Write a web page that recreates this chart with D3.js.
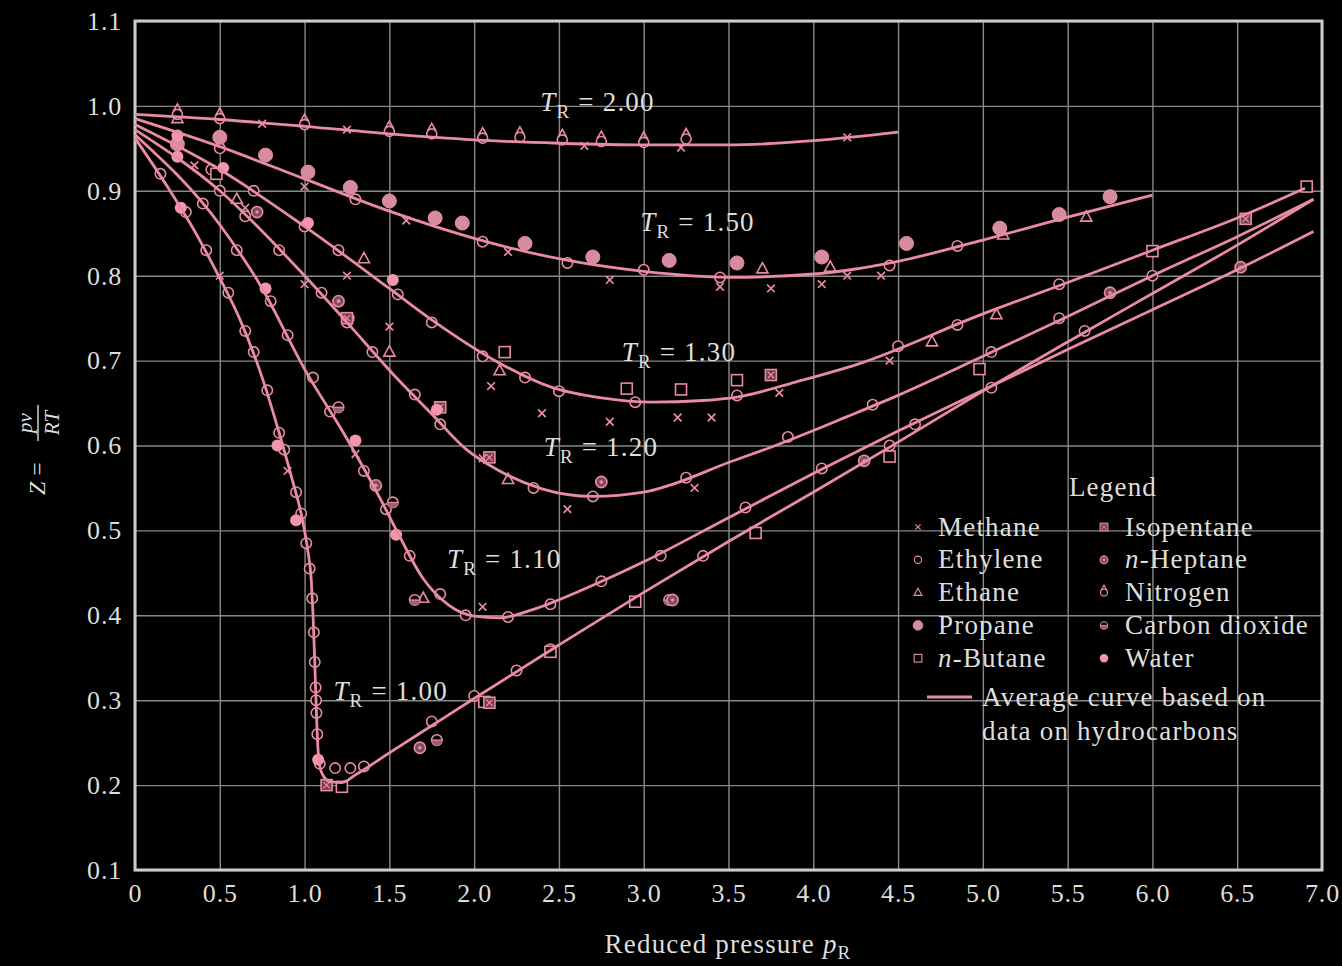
<!DOCTYPE html>
<html>
<head>
<meta charset="utf-8">
<script src="https://cdn.jsdelivr.net/npm/d3@7"></script>
<style>
  html, body { margin: 0; padding: 0; background: #000; }
  svg { display: block; }
  text { font-family: "Liberation Serif", "Times New Roman", serif; fill: #dedede; }
</style>
</head>
<body>
<svg id="chart" width="1342" height="966"></svg>
<script>
// Generalized compressibility chart: Z = pv/RT against reduced pressure p_R

const xTickValues = [0, 0.5, 1.0, 1.5, 2.0, 2.5, 3.0, 3.5, 4.0, 4.5, 5.0, 5.5, 6.0, 6.5, 7.0];
const yTickValues = [0.1, 0.2, 0.3, 0.4, 0.5, 0.6, 0.7, 0.8, 0.9, 1.0, 1.1];

// average curves, [p_R, Z]
const curveTR200 = [[0,0.99],[0.5,0.984],[1.0,0.976],[1.5,0.967],[2.0,0.96],[2.5,0.956],[3.0,0.954],[3.5,0.954],[4.0,0.959],[4.5,0.969]];
const curveTR150 = [[0,0.985],[0.5,0.952],[1.0,0.914],[1.5,0.876],[2.0,0.844],[2.5,0.82],[3.0,0.805],[3.5,0.798],[4.0,0.802],[4.5,0.817],[5.0,0.842],[5.5,0.869],[6.0,0.895]];
const curveTR130 = [[0,0.978],[0.5,0.925],[1.0,0.858],[1.5,0.785],[1.75,0.748],[2.15,0.697],[2.45,0.669],[2.75,0.656],[3.05,0.651],[3.35,0.653],[3.55,0.657],[3.9,0.675],[4.25,0.695],[5.0,0.755],[5.5,0.792],[6.0,0.83],[6.5,0.868],[6.9,0.903]];
const curveTR120 = [[0,0.972],[0.5,0.9],[1.0,0.8],[1.25,0.745],[1.55,0.678],[1.75,0.637],[1.95,0.596],[2.15,0.57],[2.4,0.549],[2.7,0.54],[3.0,0.545],[3.15,0.553],[3.5,0.58],[3.75,0.598],[4.2,0.634],[4.5,0.659],[5.0,0.705],[5.5,0.752],[6.0,0.8],[6.5,0.846],[6.95,0.89]];
const curveTR110 = [[0,0.966],[0.5,0.86],[0.75,0.785],[1.0,0.69],[1.25,0.608],[1.45,0.536],[1.55,0.497],[1.7,0.443],[1.85,0.412],[2.0,0.399],[2.15,0.397],[2.35,0.407],[2.65,0.431],[3.0,0.463],[3.5,0.515],[4.0,0.567],[4.5,0.617],[5.0,0.665],[5.5,0.713],[6.0,0.76],[6.5,0.807],[6.95,0.852]];
const curveTR100 = [[0,0.962],[0.2,0.902],[0.37,0.846],[0.5,0.797],[0.62,0.748],[0.75,0.68],[0.85,0.615],[0.92,0.565],[0.99,0.51],[1.02,0.475],[1.04,0.44],[1.05,0.40],[1.06,0.345],[1.07,0.285],[1.08,0.24],[1.1,0.215],[1.15,0.204],[1.22,0.203],[1.3,0.212],[1.5,0.238],[1.75,0.27],[2.0,0.302],[2.5,0.365],[3.0,0.427],[3.5,0.487],[4.0,0.545],[4.5,0.604],[5.0,0.664],[5.5,0.722],[6.0,0.779],[6.5,0.836],[6.95,0.89]];

// curve labels: reduced temperature, anchored at [p_R, Z] of the label's left baseline
const curveLabels = [
  { tr: "2.00", p: 2.39, z: 0.994 },
  { tr: "1.50", p: 2.98, z: 0.853 },
  { tr: "1.30", p: 2.87, z: 0.700 },
  { tr: "1.20", p: 2.41, z: 0.588 },
  { tr: "1.10", p: 1.84, z: 0.456 },
  { tr: "1.00", p: 1.17, z: 0.300 }
];

// measured points by gas, [p_R, Z]
const methanePts = [[0.75,0.979],[1.25,0.972],[2.65,0.953],[3.22,0.951],[4.2,0.963],
  [1.0,0.905],[1.6,0.865],[2.2,0.828],[2.8,0.795],[3.45,0.787],[3.75,0.785],[4.05,0.79],[4.4,0.8],
  [1.25,0.8],[2.1,0.67],[2.4,0.638],[2.8,0.628],[3.2,0.633],[3.4,0.633],[3.8,0.662],[4.45,0.7],
  [1.0,0.79],[2.05,0.585],[2.55,0.525],[3.3,0.55],[1.3,0.59],[2.05,0.41],[0.5,0.8],[0.9,0.57],[4.2,0.8],
  [0.35,0.93],[0.65,0.88],[1.5,0.74]];
const ethylenePts = [[0.5,0.95],[1.3,0.89],[2.05,0.84],[2.55,0.815],[3.0,0.807],[3.45,0.798],[4.45,0.812],[4.85,0.835],
  [0.45,0.925],[0.7,0.9],[1.0,0.858],[1.2,0.83],[1.55,0.778],[1.75,0.745],[2.05,0.705],[2.3,0.68],[2.5,0.664],[2.95,0.651],[3.55,0.659],[4.5,0.717],[4.85,0.742],[5.45,0.79],
  [0.5,0.9],[0.65,0.87],[0.85,0.83],[1.1,0.78],[1.25,0.745],[1.4,0.71],[1.65,0.66],[1.8,0.625],[2.35,0.55],[2.7,0.54],[3.25,0.562],[3.85,0.61],[4.35,0.648],[5.05,0.71],[5.45,0.75],[6.0,0.8],
  [0.4,0.885],[0.6,0.83],[0.8,0.77],[0.9,0.73],[1.05,0.68],[1.15,0.64],[1.35,0.57],[1.48,0.525],[1.62,0.47],[1.8,0.425],[1.95,0.4],[2.2,0.398],[2.45,0.413],[2.75,0.44],[3.1,0.47],[3.6,0.527],[4.05,0.573],[4.6,0.625],
  [0.15,0.92],[0.3,0.875],[0.42,0.83],[0.55,0.78],[0.65,0.735],[0.7,0.71],[0.78,0.665],[0.85,0.615],[0.88,0.595],[0.95,0.545],[0.98,0.52],[1.01,0.485],[1.03,0.455],[1.045,0.42],[1.055,0.38],[1.06,0.345],[1.065,0.315],[1.068,0.3],[1.07,0.285],[1.075,0.26],[1.09,0.225],[1.18,0.22],[1.27,0.22],[1.35,0.222],[1.75,0.275],[2.0,0.305],[2.25,0.335],[2.45,0.36],[3.35,0.47],[4.45,0.6],[5.05,0.668],[5.6,0.735]];
const ethanePts = [[3.7,0.808],[4.1,0.81],[5.12,0.848],[5.61,0.869],[1.35,0.82],[2.15,0.688],[1.5,0.71],[2.2,0.56],[1.7,0.42],[4.7,0.722],[5.08,0.754],[0.6,0.89],[0.25,0.985]];
const propanePts = [[0.25,0.955],[0.5,0.963],[0.77,0.942],[1.02,0.922],[1.27,0.904],[1.5,0.888],[1.77,0.868],[1.93,0.862],[2.3,0.838],[2.7,0.822],[3.15,0.818],[3.55,0.815],[4.05,0.822],[4.55,0.838],[5.1,0.856],[5.45,0.872],[5.75,0.893]];
const butanePts = [[2.18,0.71],[2.9,0.667],[3.22,0.666],[3.55,0.677],[2.06,0.298],[2.45,0.357],[2.95,0.416],[3.66,0.497],[4.45,0.587],[4.98,0.69],[6.0,0.829],[6.91,0.905],[1.22,0.198],[0.48,0.92]];
const isopentanePts = [[2.09,0.586],[2.09,0.297],[1.13,0.2],[1.8,0.645],[3.75,0.683],[6.55,0.867],[1.25,0.75]];
const heptanePts = [[0.72,0.875],[1.2,0.77],[1.68,0.244],[3.17,0.418],[6.52,0.81],[4.3,0.582],[1.42,0.553],[2.75,0.557],[5.75,0.78]];
const nitrogenPts = [[0.25,0.99],[0.5,0.985],[1.0,0.978],[1.5,0.97],[1.75,0.967],[2.05,0.962],[2.27,0.963],[2.52,0.96],[2.75,0.958],[3.0,0.957],[3.25,0.961]];
const co2Pts = [[1.52,0.533],[1.2,0.645],[1.65,0.418],[1.78,0.253],[1.26,0.75],[3.15,0.418]];
const waterPts = [[0.25,0.965],[0.25,0.94],[0.52,0.927],[1.02,0.862],[1.52,0.795],[1.78,0.642],[1.3,0.606],[1.54,0.495],[0.77,0.785],[0.84,0.6],[0.95,0.512],[1.08,0.23],[0.27,0.88]];

const legendLeft = [
  { kind: "methane", label: ["Methane"] },
  { kind: "ethylene", label: ["Ethylene"] },
  { kind: "ethane", label: ["Ethane"] },
  { kind: "propane", label: ["Propane"] },
  { kind: "butane", label: ["n", "-Butane"] }
];
const legendRight = [
  { kind: "isopentane", label: ["Isopentane"] },
  { kind: "heptane", label: ["n", "-Heptane"] },
  { kind: "nitrogen", label: ["Nitrogen"] },
  { kind: "co2", label: ["Carbon dioxide"] },
  { kind: "water", label: ["Water"] }
];

const PINK = "#e98ba2";
const TEXT = "#dedede";
const svg = d3.select("#chart");
const plotLeft = 135, plotRight = 1322, plotTop = 21, plotBottom = 870;

const x = d3.scaleLinear().domain([0, 7]).range([plotLeft, plotRight]);
const y = d3.scaleLinear().domain([0.1, 1.1]).range([plotBottom, plotTop]);

// grid
svg.append("g")
  .attr("transform", `translate(0,${plotBottom})`)
  .call(d3.axisBottom(x).tickValues(xTickValues).tickSize(-(plotBottom - plotTop)).tickFormat(""))
  .call(g => g.select(".domain").remove())
  .call(g => g.selectAll("line").attr("stroke", "#888").attr("stroke-width", 1.4));
svg.append("g")
  .attr("transform", `translate(${plotLeft},0)`)
  .call(d3.axisLeft(y).tickValues(yTickValues).tickSize(-(plotRight - plotLeft)).tickFormat(""))
  .call(g => g.select(".domain").remove())
  .call(g => g.selectAll("line").attr("stroke", "#888").attr("stroke-width", 1.4));

// frame
svg.append("rect")
  .attr("x", plotLeft).attr("y", plotTop)
  .attr("width", plotRight - plotLeft).attr("height", plotBottom - plotTop)
  .attr("fill", "none").attr("stroke", "#cccccc").attr("stroke-width", 3);

// tick labels
const fmt = d => d === 0 ? "0" : d3.format(".1f")(d);
svg.append("g")
  .attr("transform", `translate(0,${plotBottom})`)
  .call(d3.axisBottom(x).tickValues(xTickValues).tickSize(0).tickPadding(14).tickFormat(fmt))
  .call(g => g.select(".domain").remove())
  .call(g => g.selectAll("text").attr("font-size", 26).attr("fill", TEXT)
    .attr("font-family", "Liberation Serif, serif").attr("letter-spacing", 0.8));
svg.append("g")
  .attr("transform", `translate(${plotLeft},0)`)
  .call(d3.axisLeft(y).tickValues(yTickValues).tickSize(0).tickPadding(13).tickFormat(fmt))
  .call(g => g.select(".domain").remove())
  .call(g => g.selectAll("text").attr("font-size", 26).attr("fill", TEXT)
    .attr("font-family", "Liberation Serif, serif").attr("letter-spacing", 0.8));

// markers
function marker(g, kind, cx, cy, k = 1) {
  const m = g.append("g").attr("transform", `translate(${cx},${cy}) scale(${k})`);
  const sw = 1.6;
  switch (kind) {
    case "methane":
      m.append("path").attr("d", "M-3.8,-3.8L3.8,3.8M-3.8,3.8L3.8,-3.8")
        .attr("stroke", PINK).attr("stroke-width", 1.7).attr("fill", "none");
      break;
    case "ethylene":
      m.append("circle").attr("r", 5.2).attr("fill", "#000").attr("stroke", PINK).attr("stroke-width", sw);
      break;
    case "ethane":
      m.append("path").attr("d", "M0,-6.2L5.6,4L-5.6,4Z").attr("fill", "#000").attr("stroke", PINK).attr("stroke-width", sw);
      break;
    case "propane":
      m.append("circle").attr("r", 7).attr("fill", "#d68c9f").attr("stroke", PINK).attr("stroke-width", 1);
      break;
    case "butane":
      m.append("rect").attr("x", -5.5).attr("y", -5.5).attr("width", 11).attr("height", 11)
        .attr("fill", "#000").attr("stroke", PINK).attr("stroke-width", sw);
      break;
    case "isopentane":
      m.append("rect").attr("x", -5.5).attr("y", -5.5).attr("width", 11).attr("height", 11)
        .attr("fill", "#6e3d4a").attr("stroke", PINK).attr("stroke-width", sw);
      m.append("path").attr("d", "M-3.2,-3.2L3.2,3.2M-3.2,3.2L3.2,-3.2").attr("stroke", PINK).attr("stroke-width", 1.3);
      break;
    case "heptane":
      m.append("circle").attr("r", 5.6).attr("fill", "#7c4d5a").attr("stroke", PINK).attr("stroke-width", sw);
      m.append("circle").attr("r", 1.8).attr("fill", PINK);
      break;
    case "nitrogen":
      m.append("circle").attr("r", 5).attr("fill", "#000").attr("stroke", PINK).attr("stroke-width", sw);
      m.append("path").attr("d", "M-4.2,-3L0,-10.5L4.2,-3").attr("fill", "none").attr("stroke", PINK).attr("stroke-width", sw);
      break;
    case "co2":
      m.append("circle").attr("r", 5.3).attr("fill", "#000").attr("stroke", PINK).attr("stroke-width", sw);
      m.append("path").attr("d", "M-5.3,0A5.3,5.3 0 0 0 5.3,0Z").attr("fill", "#9c5f6f");
      m.append("path").attr("d", "M-5.3,0L5.3,0").attr("stroke", PINK).attr("stroke-width", 1.3);
      break;
    case "water":
      m.append("circle").attr("r", 6).attr("fill", "#f396ad");
      break;
  }
}

const pointSets = [
  ["ethylene", ethylenePts], ["butane", butanePts], ["ethane", ethanePts], ["nitrogen", nitrogenPts],
  ["co2", co2Pts], ["heptane", heptanePts], ["isopentane", isopentanePts], ["methane", methanePts],
  ["propane", propanePts], ["water", waterPts]
];
const markerLayer = svg.append("g");
pointSets.forEach(([kind, pts]) => pts.forEach(d => marker(markerLayer, kind, x(d[0]), y(d[1]))));

// average curves
const line = d3.line().x(d => x(d[0])).y(d => y(d[1])).curve(d3.curveMonotoneX);
[curveTR200, curveTR150, curveTR130, curveTR120, curveTR110, curveTR100].forEach(c => {
  svg.append("path").attr("d", line(c)).attr("fill", "none")
    .attr("stroke", PINK).attr("stroke-width", 2.8).attr("stroke-linejoin", "round");
});

// curve labels
curveLabels.forEach(l => {
  const t = svg.append("text").attr("x", x(l.p)).attr("y", y(l.z))
    .attr("font-size", 27).attr("letter-spacing", 1.2);
  t.append("tspan").attr("font-style", "italic").text("T");
  t.append("tspan").attr("font-size", 19).attr("dy", 7).text("R");
  t.append("tspan").attr("dy", -7).text(" = " + l.tr);
});

// axis titles
const xt = svg.append("text").attr("x", 728).attr("y", 953).attr("text-anchor", "middle")
  .attr("font-size", 27).attr("letter-spacing", 1.2);
xt.append("tspan").text("Reduced pressure ");
xt.append("tspan").attr("font-style", "italic").text("p");
xt.append("tspan").attr("font-size", 19).attr("dy", 6).text("R");

const yt = svg.append("g").attr("transform", "translate(38,450) rotate(-90)");
yt.append("text").attr("x", -45).attr("y", 7).attr("font-size", 24)
  .call(t => { t.append("tspan").attr("font-style", "italic").text("Z"); t.append("tspan").text(" ="); });
yt.append("line").attr("x1", 9).attr("x2", 45).attr("y1", 0).attr("y2", 0)
  .attr("stroke", TEXT).attr("stroke-width", 1.4);
yt.append("text").attr("x", 27).attr("y", -6).attr("text-anchor", "middle")
  .attr("font-size", 21).attr("font-style", "italic").text("pv");
yt.append("text").attr("x", 27).attr("y", 21).attr("text-anchor", "middle")
  .attr("font-size", 21).attr("font-style", "italic").text("RT");

// legend
const lg = svg.append("g");
lg.append("text").attr("x", 1113).attr("y", 496).attr("text-anchor", "middle")
  .attr("font-size", 27).attr("letter-spacing", 1.2).text("Legend");
function legendColumn(items, mx, tx) {
  items.forEach((it, i) => {
    const cy = 527 + i * 32.8;
    marker(lg, it.kind, mx, cy, 0.7);
    const t = lg.append("text").attr("x", tx).attr("y", cy + 8.5)
      .attr("font-size", 27).attr("letter-spacing", 1.2);
    if (it.label.length === 2) {
      t.append("tspan").attr("font-style", "italic").text(it.label[0]);
      t.append("tspan").text(it.label[1]);
    } else {
      t.text(it.label[0]);
    }
  });
}
legendColumn(legendLeft, 918, 938);
legendColumn(legendRight, 1104, 1125);
lg.append("line").attr("x1", 927).attr("x2", 972).attr("y1", 697).attr("y2", 697)
  .attr("stroke", PINK).attr("stroke-width", 2.8);
lg.append("text").attr("x", 982).attr("y", 706).attr("font-size", 27).attr("letter-spacing", 1.2)
  .text("Average curve based on");
lg.append("text").attr("x", 982).attr("y", 740).attr("font-size", 27).attr("letter-spacing", 1.2)
  .text("data on hydrocarbons");
</script>
</body>
</html>
